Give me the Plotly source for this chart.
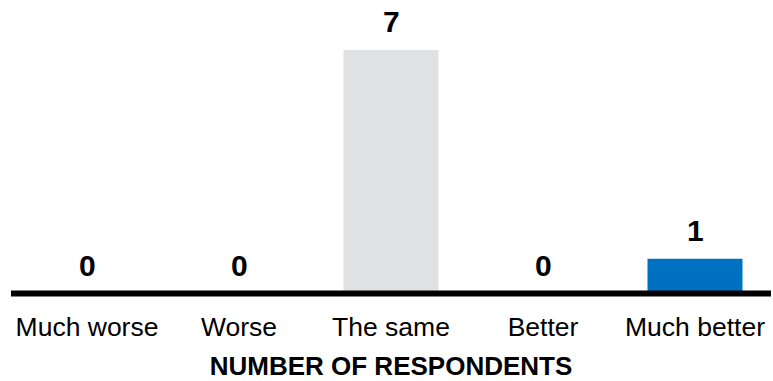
import plotly.graph_objects as go

categories = ["Much worse", "Worse", "The same", "Better", "Much better"]
values = [0, 0, 7, 0, 1]
bar_colors = ["#E0E1E3", "#E0E1E3", "#E0E1E3", "#E0E1E3", "#0070C0"]
axis_title = "NUMBER OF RESPONDENTS"

FONT = "Liberation Sans, Arial, sans-serif"

fig = go.Figure(
    go.Bar(
        x=categories,
        y=values,
        marker=dict(color=bar_colors, line=dict(width=0)),
        hoverinfo="skip",
    )
)

# value labels above each bar
for c, v in zip(categories, values):
    fig.add_annotation(
        x=c, y=v, xref="x", yref="y",
        text="<b>%d</b>" % v,
        showarrow=False,
        yanchor="bottom",
        yshift=10,
        font=dict(family=FONT, size=30, color="#000000"),
    )

# baseline
fig.add_shape(
    type="line", xref="paper", yref="y",
    x0=0, x1=1, y0=0, y1=0,
    line=dict(color="#000000", width=6),
    layer="above",
)

fig.update_layout(
    width=773,
    height=381,
    margin=dict(l=11, r=2, t=0, b=77),
    paper_bgcolor="white",
    plot_bgcolor="white",
    bargap=0.375,
    showlegend=False,
    font=dict(family=FONT, color="#000000"),
    xaxis=dict(
        showline=False,
        showgrid=False,
        zeroline=False,
        ticks="",
        ticklabelstandoff=4,
        tickfont=dict(family=FONT, size=26.5, color="#000000"),
        title=dict(text="<b>" + axis_title + "</b>",
                   font=dict(family=FONT, size=26, color="#000000"),
                   standoff=22),
    ),
    yaxis=dict(
        range=[-0.3, 8.438],
        visible=False,
        showgrid=False,
        zeroline=False,
    ),
)

fig.write_html("out.html")
